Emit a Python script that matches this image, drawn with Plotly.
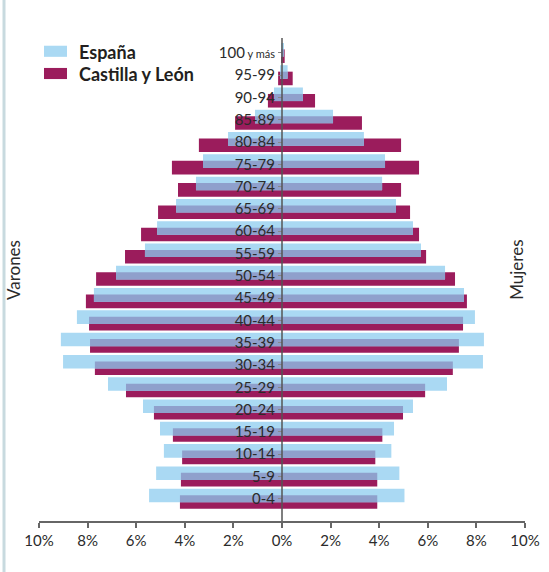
import plotly.graph_objects as go

# ---- data (percent of population) ----
ages = ["0-4", "5-9", "10-14", "15-19", "20-24", "25-29", "30-34", "35-39",
        "40-44", "45-49", "50-54", "55-59", "60-64", "65-69", "70-74",
        "75-79", "80-84", "85-89", "90-94", "95-99", "100 y más"]
age_labels = ["0-4", "5-9", "10-14", "15-19", "20-24", "25-29", "30-34", "35-39",
              "40-44", "45-49", "50-54", "55-59", "60-64", "65-69", "70-74",
              "75-79", "80-84", "85-89", "90-94", "95-99",
              "100<span style='font-size:11px'> y más</span>"]

espana_varones = [5.47, 5.18, 4.86, 5.02, 5.72, 7.16, 9.01, 9.10, 8.44, 7.74, 6.83,
                  5.64, 5.14, 4.36, 3.54, 3.25, 2.22, 1.11, 0.33, 0.08, 0.02]
espana_mujeres = [5.04, 4.83, 4.50, 4.61, 5.39, 6.79, 8.27, 8.31, 7.94, 7.49, 6.71,
                  5.72, 5.39, 4.69, 4.12, 4.24, 3.37, 2.10, 0.86, 0.23, 0.05]
cyl_varones = [4.20, 4.16, 4.11, 4.49, 5.27, 6.42, 7.70, 7.90, 7.94, 8.07, 7.65,
               6.46, 5.80, 5.10, 4.28, 4.53, 3.42, 1.93, 0.58, 0.16, 0.03]
cyl_mujeres = [3.92, 3.92, 3.84, 4.13, 4.98, 5.89, 7.03, 7.28, 7.45, 7.61, 7.12,
               5.93, 5.64, 5.27, 4.90, 5.64, 4.90, 3.29, 1.36, 0.44, 0.11]

x_ticks = [-10, -8, -6, -4, -2, 0, 2, 4, 6, 8, 10]
x_ticktext = ["10%", "8%", "6%", "4%", "2%", "0%", "2%", "4%", "6%", "8%", "10%"]

# ---- styles ----
BLUE = "#AAD9F3"
MAGENTA = "#9B1C5C"
OVERLAP = "#8FA0CC"
FONT = "Lato"

fig = go.Figure()

def add_pair(left, right, color, offset, width):
    xs_l = [-v for v in left]
    fig.add_trace(go.Bar(y=ages, x=xs_l, orientation="h", marker_color=color,
                         marker_line_width=0, offset=offset, width=width,
                         hoverinfo="skip", showlegend=False))
    fig.add_trace(go.Bar(y=ages, x=right, orientation="h", marker_color=color,
                         marker_line_width=0, offset=offset, width=width,
                         hoverinfo="skip", showlegend=False))

# Castilla y León (lower), España (upper), overlap band (middle)
add_pair(cyl_varones, cyl_mujeres, MAGENTA, -0.45, 0.61)
add_pair(espana_varones, espana_mujeres, BLUE, -0.16, 0.61)
ov_left = [min(a, b) for a, b in zip(espana_varones, cyl_varones)]
ov_right = [min(a, b) for a, b in zip(espana_mujeres, cyl_mujeres)]
add_pair(ov_left, ov_right, OVERLAP, -0.16, 0.32)

fig.update_layout(
    barmode="overlay",
    width=549, height=572,
    margin=dict(l=39, r=24, t=38, b=51),
    paper_bgcolor="white", plot_bgcolor="white",
    font=dict(family=FONT, color="#2b2b2b", size=15),
    xaxis=dict(range=[-10, 10], tickvals=x_ticks, ticktext=x_ticktext,
               showgrid=False, zeroline=False, showline=True,
               linecolor="#666666", linewidth=1.5, ticks="outside",
               ticklen=5, tickwidth=1.5, tickcolor="#666666",
               tickfont=dict(family=FONT, size=15, color="#2b2b2b"),
               automargin=False, fixedrange=True),
    yaxis=dict(type="category", categoryorder="array", categoryarray=ages,
               tickvals=ages, ticktext=age_labels,
               range=[-1, 20.67], anchor="free", position=0.5,
               showgrid=False, zeroline=False, showline=False,
               ticks="outside", ticklen=4, tickwidth=1.2, tickcolor="#888888",
               tickfont=dict(family=FONT, size=15, color="#2b2b2b"),
               automargin=False, fixedrange=True),
)

# centre line
fig.add_shape(type="line", xref="x", yref="paper", x0=0, x1=0, y0=0, y1=1,
              line=dict(color="#555555", width=1.5), layer="above")
# left frame border
fig.add_shape(type="line", xref="paper", yref="paper", x0=-0.072, x1=-0.072,
              y0=-0.11, y1=1.08, line=dict(color="#C8DADF", width=3))

# manual legend
legend_items = [("España", BLUE, 0.984, 0.961, 0.972),
                ("Castilla y León", MAGENTA, 0.938, 0.915, 0.926)]
for name, col, y1, y0, ym in legend_items:
    fig.add_shape(type="rect", xref="paper", yref="paper", x0=0.0103, x1=0.0576,
                  y0=y0, y1=y1, fillcolor=col, line_width=0)
    fig.add_annotation(text="<b>%s</b>" % name, xref="paper", yref="paper",
                       x=0.078, y=ym, xanchor="left", yanchor="middle",
                       showarrow=False,
                       font=dict(family=FONT, size=18, color="#231F20"))

# side titles
fig.add_annotation(text="Varones", xref="paper", yref="paper", x=-0.051, y=0.52,
                   textangle=-90, showarrow=False, xanchor="center", yanchor="middle",
                   font=dict(family=FONT, size=17, color="#2b2b2b"))
fig.add_annotation(text="Mujeres", xref="paper", yref="paper", x=0.9835, y=0.52,
                   textangle=-90, showarrow=False, xanchor="center", yanchor="middle",
                   font=dict(family=FONT, size=17, color="#2b2b2b"))

fig.write_html("out.html", config={"displayModeBar": False},
               post_script="document.body.style.margin='0';document.body.style.padding='0';")
